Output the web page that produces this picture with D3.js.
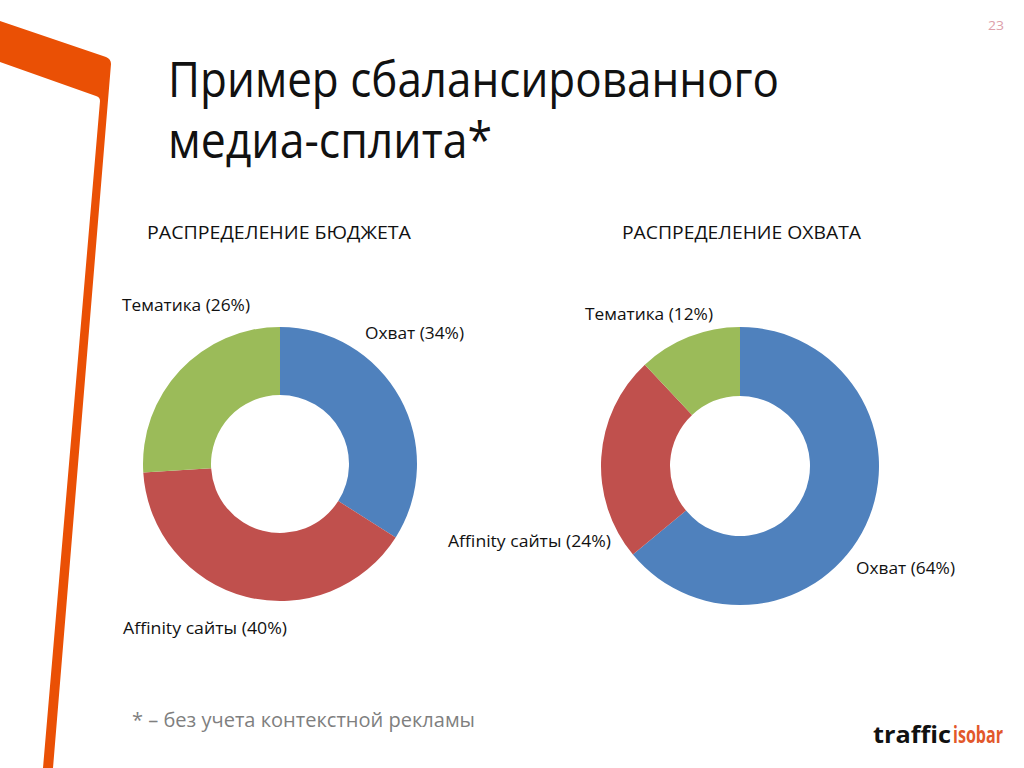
<!DOCTYPE html>
<html><head><meta charset="utf-8">
<script src="https://cdn.jsdelivr.net/npm/d3@7"></script>
<style>html,body{margin:0;padding:0;background:#fff;}svg{display:block;}</style>
</head><body>
<script>
// ---- data ----
const categories = ["Охват", "Affinity сайты", "Тематика"];
const budgetValues = [34, 40, 26];
const reachValues = [64, 24, 12];
const chartTitles = ["РАСПРЕДЕЛЕНИЕ БЮДЖЕТА", "РАСПРЕДЕЛЕНИЕ ОХВАТА"];
const titleLines = ["Пример сбалансированного", "медиа-сплита*"];
const footnote = "*  – без учета контекстной рекламы";
const pageNumber = "23";

// ---- layout (positions / styles) ----
const W = 1024, H = 768;
const colors = ["#4F81BD", "#C0504D", "#9BBB59"];
const charts = [
  {values: budgetValues, title: chartTitles[0], cx: 280, cy: 464, r: 137, ri: 69,
   titleBox: [147, 411, 239],
   labels: [[365, 464, 339], [123, 287, 634], [122, 250, 311]]},
  {values: reachValues, title: chartTitles[1], cx: 740, cy: 466, r: 139, ri: 70,
   titleBox: [622, 861, 239],
   labels: [[856, 955, 574], [448, 611, 547], [585, 713, 320]]}
];
const FONT = "'Open Sans', 'Noto Sans', sans-serif";

const svg = d3.select("body").append("svg").attr("width", W).attr("height", H);

// orange decoration
svg.append("path")
  .attr("d", "M0,21 L106,57 Q111,59 111,64 L53,768 L43,768 L100,101 Q100,97 96,96 L0,62 Z")
  .attr("fill", "#EA5005");

function fitText(sel, x0, x1, y, size, color, weight) {
  return sel.append("text")
    .attr("x", x0).attr("y", y)
    .attr("font-family", FONT).attr("font-size", size)
    .attr("fill", color).attr("font-weight", weight || "normal");
}
function setText(t, str, x0, x1) {
  t.text(str).attr("textLength", x1 - x0).attr("lengthAdjust", "spacingAndGlyphs");
  return t;
}

// title
setText(fitText(svg, 168, 779, 97, 49, "#111"), titleLines[0], 168, 779);
setText(fitText(svg, 168, 492, 158, 49, "#111"), titleLines[1], 168, 492);

// page number
setText(fitText(svg, 988, 1004, 30, 13, "#DDA0AA"), pageNumber, 988, 1004);

// charts
const pie = d3.pie().sort(null).value(d => d);
charts.forEach(c => {
  const g = svg.append("g").attr("transform", `translate(${c.cx},${c.cy})`);
  const arc = d3.arc().innerRadius(c.ri).outerRadius(c.r);
  g.selectAll("path").data(pie(c.values)).join("path")
    .attr("d", arc)
    .attr("fill", (d, i) => colors[i]);
  setText(fitText(svg, c.titleBox[0], c.titleBox[1], c.titleBox[2], 19, "#111"),
          c.title, c.titleBox[0], c.titleBox[1]);
  c.values.forEach((v, i) => {
    const L = c.labels[i];
    setText(fitText(svg, L[0], L[1], L[2], 16.5, "#111"),
            `${categories[i]} (${v}%)`, L[0], L[1]);
  });
});

// footnote
setText(fitText(svg, 132, 475, 727, 20, "#7F7F7F"), footnote, 132, 475);

// logo
setText(fitText(svg, 873, 951, 743, 23, "#111", "bold"), "traffic", 873, 951);
setText(fitText(svg, 953, 1003, 743, 23, "#E2582B", "bold"), "isobar", 953, 1003);
</script>
</body></html>
